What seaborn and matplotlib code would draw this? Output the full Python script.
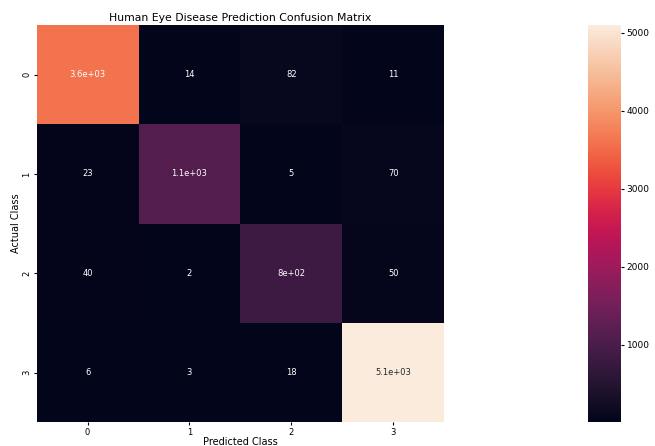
import numpy as np
import matplotlib
matplotlib.use('Agg')
import matplotlib.pyplot as plt
import seaborn as sns

# Confusion matrix values
classes = ['0', '1', '2', '3']
row_0 = [3600, 14, 82, 11]
row_1 = [23, 1100, 5, 70]
row_2 = [40, 2, 800, 50]
row_3 = [6, 3, 18, 5100]

cm = np.array([row_0, row_1, row_2, row_3])

fig = plt.figure(figsize=(6.55, 4.46), dpi=100)
ax = fig.add_axes([0.056, 0.053, 0.622, 0.891])
cbar_ax = fig.add_axes([0.898, 0.053, 0.050, 0.891])

sns.heatmap(cm, annot=True, ax=ax, cbar_ax=cbar_ax,
            xticklabels=classes, yticklabels=classes,
            annot_kws={'fontsize': 6})

ax.set_title('Human Eye Disease Prediction Confusion Matrix', fontsize=7.8, pad=3)
ax.set_xlabel('Predicted Class', fontsize=7, labelpad=0)
ax.set_ylabel('Actual Class', fontsize=7, labelpad=1)
ax.tick_params(labelsize=6, length=2.5, pad=1.5)
cbar_ax.tick_params(labelsize=6.5, length=2.5, pad=1.5)

plt.savefig('out.png', dpi=100)
